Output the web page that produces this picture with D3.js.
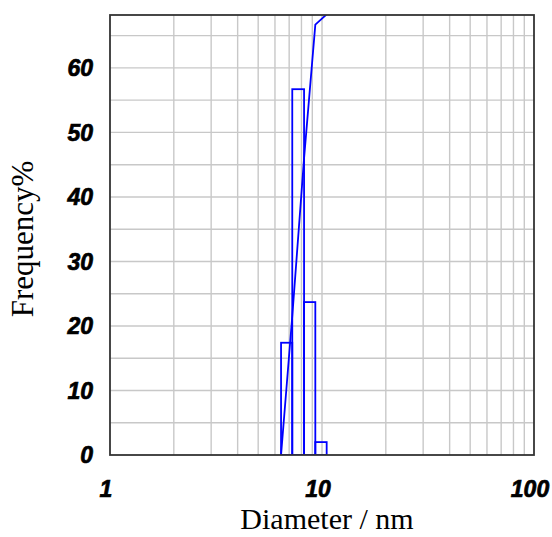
<!DOCTYPE html>
<html>
<head>
<meta charset="utf-8">
<script src="https://cdn.jsdelivr.net/npm/d3@7"></script>
<style>
  html, body { margin: 0; padding: 0; background: #fff; }
</style>
</head>
<body>
<div id="chart"></div>
<script>
// bin edges (nm) and frequency per bin
const binEdges = [6.41, 7.24, 8.23, 9.30, 10.52];
const freq = [17.4, 56.7, 23.7, 2.0];
// curve through the bin edges
const curveVals = [0, 21.5, 46, 66.7, 68.3];
const xTicks = [1, 10, 100];
const yTicks = [0, 10, 20, 30, 40, 50, 60];

const width = 552, height = 537;
const margin = { left: 110, right: 18, top: 15, bottom: 82 };
const innerW = width - margin.left - margin.right;
const innerH = height - margin.top - margin.bottom;

const svg = d3.select('#chart').append('svg')
  .attr('width', width)
  .attr('height', height);

const x = d3.scaleLog().domain([1, 100]).range([margin.left, margin.left + innerW]);
const y = d3.scaleLinear().domain([0, 68.2]).range([margin.top + innerH, margin.top]);

svg.append('clipPath').attr('id', 'clip')
  .append('rect')
  .attr('x', margin.left).attr('y', margin.top)
  .attr('width', innerW).attr('height', innerH);

// grid
const grid = svg.append('g').attr('stroke', '#c8c8c8').attr('stroke-width', 1.4);
const minor = [];
[1, 10].forEach(dec => { for (let k = 2; k <= 9; k++) minor.push(dec * k); });
grid.selectAll('line.v').data(minor.concat([10])).enter().append('line')
  .attr('x1', d => x(d)).attr('x2', d => x(d))
  .attr('y1', margin.top).attr('y2', margin.top + innerH);
grid.selectAll('line.h').data(d3.range(5, 68, 5)).enter().append('line')
  .attr('y1', d => y(d)).attr('y2', d => y(d))
  .attr('x1', margin.left).attr('x2', margin.left + innerW);

const bins = freq.map((v, i) => ({ x0: binEdges[i], x1: binEdges[i + 1], v }));

const plot = svg.append('g').attr('clip-path', 'url(#clip)');
plot.selectAll('rect').data(bins).enter().append('rect')
  .attr('x', d => x(d.x0))
  .attr('width', d => x(d.x1) - x(d.x0))
  .attr('y', d => y(d.v))
  .attr('height', d => y(0) - y(d.v))
  .attr('fill', 'none')
  .attr('stroke', '#0000ff')
  .attr('stroke-width', 1.8);

const line = d3.line().x(d => x(d[0])).y(d => y(d[1]));
plot.append('path')
  .datum(binEdges.map((e, i) => [e, curveVals[i]]))
  .attr('d', line)
  .attr('fill', 'none')
  .attr('stroke', '#0000ff')
  .attr('stroke-width', 1.8);

// frame
svg.append('rect')
  .attr('x', margin.left).attr('y', margin.top)
  .attr('width', innerW).attr('height', innerH)
  .attr('fill', 'none').attr('stroke', '#333').attr('stroke-width', 1.8);

// tick labels
const tickFont = '"Liberation Sans", Arial, sans-serif';
function tickStyle(sel) {
  sel.attr('font-family', tickFont)
    .attr('font-size', 23)
    .attr('font-weight', 'bold')
    .attr('font-style', 'italic')
    .attr('stroke', '#000')
    .attr('stroke-width', 0.7);
}
svg.selectAll('text.xt').data(xTicks).enter().append('text')
  .attr('x', d => x(d) - 4)
  .attr('y', 497)
  .attr('text-anchor', 'middle')
  .call(tickStyle)
  .text(d => d);

svg.selectAll('text.yt').data(yTicks).enter().append('text')
  .attr('x', 93)
  .attr('y', d => y(d))
  .attr('dy', '0.36em')
  .attr('text-anchor', 'end')
  .call(tickStyle)
  .text(d => d);

// axis titles
const titleFont = '"Liberation Serif", "Times New Roman", serif';
svg.append('text')
  .attr('x', 327).attr('y', 529)
  .attr('text-anchor', 'middle')
  .attr('font-family', titleFont)
  .attr('font-size', 30)
  .text('Diameter / nm');

svg.append('text')
  .attr('transform', 'translate(33,239) rotate(-90)')
  .attr('text-anchor', 'middle')
  .attr('font-family', titleFont)
  .attr('font-size', 31)
  .text('Frequency%');
</script>
</body>
</html>
